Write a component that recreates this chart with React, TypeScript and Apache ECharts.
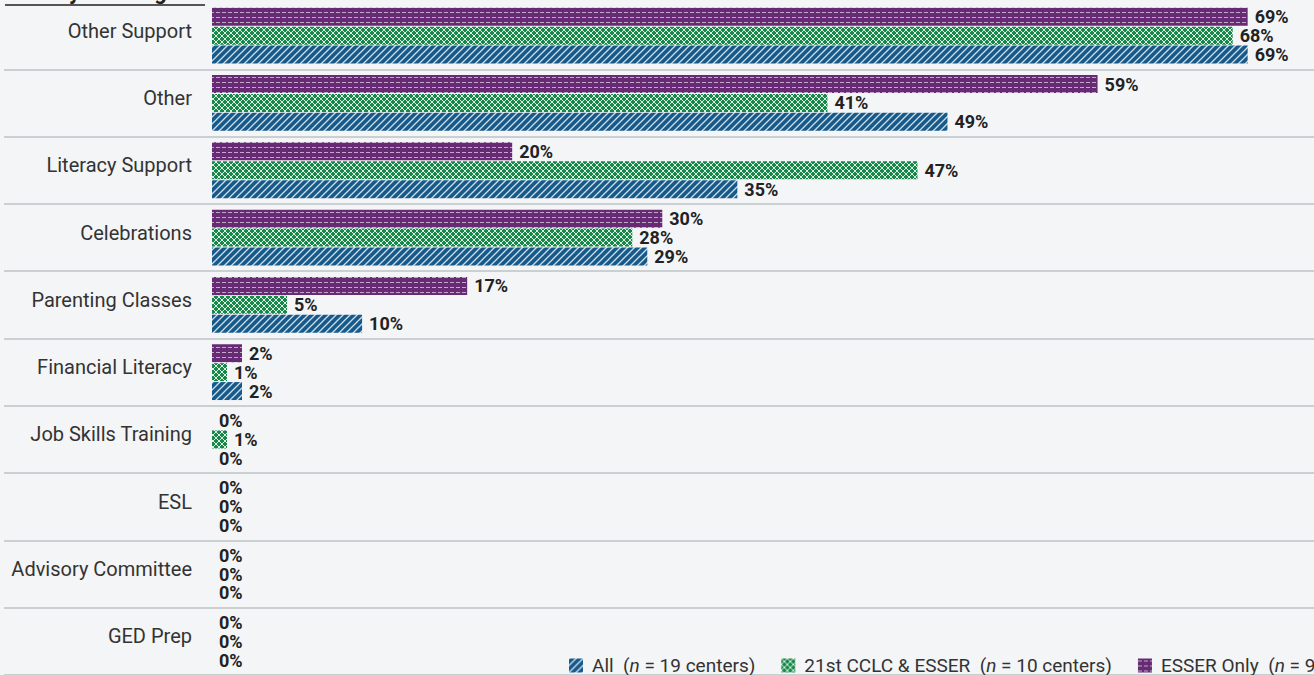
import React, { useEffect, useRef } from "react";
import * as echarts from "echarts";

const categories = [
  "Other Support",
  "Other",
  "Literacy Support",
  "Celebrations",
  "Parenting Classes",
  "Financial Literacy",
  "Job Skills Training",
  "ESL",
  "Advisory Committee",
  "GED Prep",
];
const seriesNames = ["All", "21st CCLC & ESSER", "ESSER Only"];
const centerCounts = [19, 10, 9];
const allValues = [69, 49, 35, 29, 10, 2, 0, 0, 0, 0];
const cclcEsserValues = [68, 41, 47, 28, 5, 1, 1, 0, 0, 0];
const esserOnlyValues = [69, 59, 20, 30, 17, 2, 0, 0, 0, 0];
const axisMax = 73.42;

const BLUE = "#165a8c";
const GREEN = "#18884a";
const PURPLE = "#672a75";

function tile(kind: string): HTMLCanvasElement {
  const c = document.createElement("canvas");
  const w = kind === "diag" ? 7 : 6;
  const h = kind === "dash" ? 5 : kind === "diag" ? 7 : 6;
  c.width = w;
  c.height = h;
  const g = c.getContext("2d")!;
  if (kind === "diag") {
    g.fillStyle = BLUE;
    g.fillRect(0, 0, w, h);
    g.strokeStyle = "rgba(255,255,255,0.8)";
    g.lineWidth = 1.3;
    g.beginPath();
    g.moveTo(-1, 8);
    g.lineTo(8, -1);
    g.moveTo(-1, 1);
    g.lineTo(1, -1);
    g.moveTo(6, 8);
    g.lineTo(8, 6);
    g.stroke();
  } else if (kind === "cross") {
    g.fillStyle = GREEN;
    g.fillRect(0, 0, w, h);
    g.strokeStyle = "rgba(255,255,255,0.85)";
    g.lineWidth = 1;
    g.beginPath();
    g.moveTo(-1, 7);
    g.lineTo(7, -1);
    g.moveTo(-1, -1);
    g.lineTo(7, 7);
    g.stroke();
  } else {
    g.fillStyle = PURPLE;
    g.fillRect(0, 0, w, h);
    g.fillStyle = "rgba(255,255,255,0.6)";
    g.fillRect(0, 2, 4, 1);
  }
  return c;
}

function pattern(kind: string) {
  const c = tile(kind);
  return { image: c, repeat: "repeat", imageWidth: c.width, imageHeight: c.height } as any;
}

export default function App() {
  const ref = useRef<HTMLDivElement>(null);
  useEffect(() => {
    if (!ref.current) return;
    const chart = echarts.init(ref.current, null, { renderer: "svg" });
    const label = {
      show: true,
      position: "right",
      distance: 7,
      formatter: "{c}%",
      fontFamily: "Roboto",
      fontWeight: "bold",
      fontSize: 18,
      color: "#222",
    };
    const mk = (name: string, data: number[], kind: string) => ({
      name,
      type: "bar",
      data,
      barWidth: 18,
      barGap: "5%",
      itemStyle: { color: pattern(kind) },
      label,
    });
    chart.setOption({
      animation: false,
      backgroundColor: "#f4f5f7",
      textStyle: { fontFamily: "Roboto" },
      grid: { left: 212, top: 2, right: 0, height: 680 },
      xAxis: {
        type: "value",
        min: 0,
        max: axisMax,
        show: false,
      },
      yAxis: {
        type: "category",
        inverse: true,
        data: categories,
        axisLine: { show: false },
        axisTick: {
          show: true,
          length: 208,
          interval: (i: number) => i !== 0,
          lineStyle: { color: "#bdc2c6", width: 1.5 },
        },
        splitLine: {
          show: true,
          interval: (i: number) => i !== 0,
          lineStyle: { color: "#bdc2c6", width: 1.5 },
        },
        axisLabel: {
          fontSize: 20,
          color: "#333",
          fontFamily: "Roboto",
          margin: 20,
          verticalAlign: "bottom",
          lineHeight: 10,
        },
      },
      legend: {
        data: seriesNames,
        left: 564,
        top: 651,
        width: 1400,
        itemWidth: 14,
        itemHeight: 14,
        itemGap: 26,
        icon: "rect",
        formatter: (name: string) => {
          const i = seriesNames.indexOf(name);
          return `${name}  ({i|n} = ${centerCounts[i]} centers)`;
        },
        textStyle: {
          fontSize: 19,
          color: "#333",
          fontFamily: "Roboto",
          padding: [0, 0, 0, 4],
          rich: { i: { fontStyle: "italic", fontSize: 19, color: "#333", fontFamily: "Roboto" } },
        },
      },
      graphic: [
        {
          type: "text",
          left: 5,
          top: -20,
          style: { text: "Activity Offerings", font: "bold 22px Roboto", fill: "#222" },
        },
        {
          type: "line",
          shape: { x1: 5, y1: 5, x2: 205, y2: 5 },
          style: { stroke: "#555", lineWidth: 2 },
        },
      ],
      series: [
        mk(seriesNames[2], esserOnlyValues, "dash"),
        mk(seriesNames[1], cclcEsserValues, "cross"),
        mk(seriesNames[0], allValues, "diag"),
      ],
    });
    return () => chart.dispose();
  }, []);
  return (
    <div
      ref={ref}
      style={{ position: "fixed", left: 0, top: 0, width: 1314, height: 675 }}
    />
  );
}
